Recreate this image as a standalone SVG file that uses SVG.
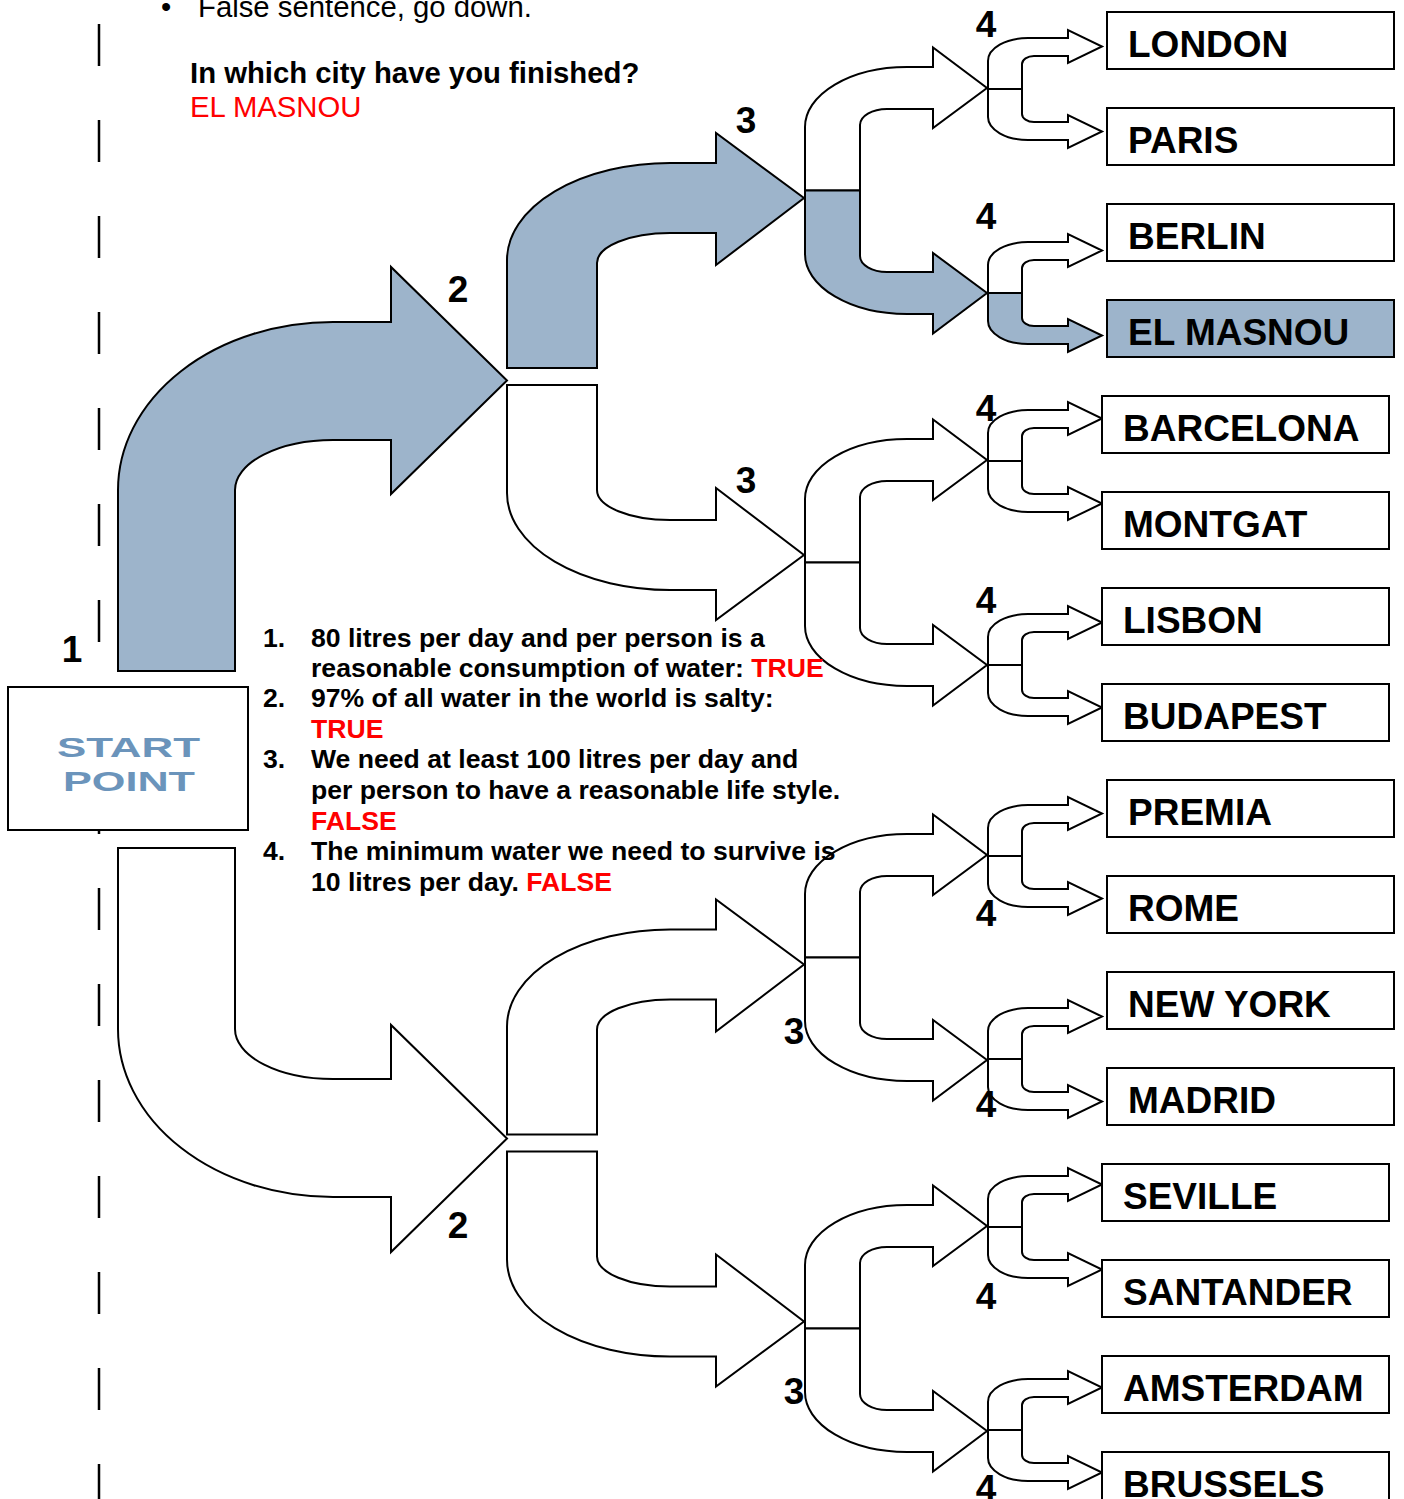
<svg xmlns="http://www.w3.org/2000/svg" xmlns:xlink="http://www.w3.org/1999/xlink" width="1404" height="1499" viewBox="0 0 1404 1499">
<style>
.sh{stroke:#000;stroke-width:2;stroke-linejoin:miter}
.w{fill:#fff}
.bl{fill:#9db4cb}
.box{stroke:#000;stroke-width:2}
.city{font-family:"Liberation Sans",Arial,sans-serif;font-weight:bold;font-size:37px;fill:#000}
.num{font-family:"Liberation Sans",Arial,sans-serif;font-weight:bold;font-size:37px;fill:#000;text-anchor:middle}
.list{font-family:"Liberation Sans",Arial,sans-serif;font-weight:bold;font-size:26.6px;fill:#000}
.hdr{font-family:"Liberation Sans",Arial,sans-serif;font-size:29.3px;fill:#000}
.red{fill:#ff0000}
.start{font-family:"Liberation Sans",Arial,sans-serif;font-weight:bold;font-size:28px;fill:#6b94bb;text-anchor:middle}
</style>
<defs>
<path id="l2u" d="M507,-8.5 L507,-116.5 A163,97 0 0 1 670,-213.5 L716,-213.5 L716,-243.5 L804,-178.5 L716,-111.5 L716,-143.5 L670,-143.5 A73,30 0 0 0 597,-113.5 L597,-8.5 Z"/>
<path id="l2d" d="M507,8.5 L507,116.5 A163,97 0 0 0 670,213.5 L716,213.5 L716,243.5 L804,178.5 L716,111.5 L716,143.5 L670,143.5 A73,30 0 0 1 597,113.5 L597,8.5 Z"/>
<path id="l3u" d="M805,0 L805,-63.5 A102,60 0 0 1 907,-123.5 L933,-123.5 L933,-143 L987,-102.5 L933,-62.5 L933,-81.5 L887,-81.5 A27,16 0 0 0 860,-65.5 L860,0 Z"/>
<path id="l3d" d="M805,0 L805,63.5 A102,60 0 0 0 907,123.5 L933,123.5 L933,143 L987,102.5 L933,62.5 L933,81.5 L887,81.5 A27,16 0 0 1 860,65.5 L860,0 Z"/>
<path id="l4u" d="M988,0 L988,-28 A40,23 0 0 1 1028,-51 L1068,-51 L1068,-59 L1102,-42.5 L1068,-26 L1068,-33 L1034,-33 A12,8 0 0 0 1022,-25 L1022,0 Z"/>
<path id="l4d" d="M988,0 L988,28 A40,23 0 0 0 1028,51 L1068,51 L1068,59 L1102,42.5 L1068,26 L1068,33 L1034,33 A12,8 0 0 1 1022,25 L1022,0 Z"/>
</defs>

<rect width="1404" height="1499" fill="#fff"/>

<line x1="99" y1="24" x2="99" y2="1499" stroke="#000" stroke-width="2.5" stroke-dasharray="42 54"/>

<g id="header">
<text class="hdr" x="161" y="17">•</text>
<text class="hdr" x="198" y="17">False sentence, go down.</text>
<text class="hdr" x="190" y="83" font-weight="bold">In which city have you finished?</text>
<text class="hdr red" x="190" y="117">EL MASNOU</text>
</g>

<g id="connectors">
<path class="sh bl" d="M118,671 L118,490 A215,168 0 0 1 333,322 L391,322 L391,267 L507,380.5 L391,494 L391,440 L333,440 A98,50 0 0 0 235,490 L235,671 Z"/>
<path class="sh w" d="M118,848 L118,1029 A215,168 0 0 0 333,1197 L391,1197 L391,1252 L507,1138.5 L391,1025 L391,1079 L333,1079 A98,50 0 0 1 235,1029 L235,848 Z"/>

<use xlink:href="#l2u" class="sh bl" y="376.5"/>
<use xlink:href="#l2d" class="sh w" y="376.5"/>
<use xlink:href="#l2u" class="sh w" y="1143"/>
<use xlink:href="#l2d" class="sh w" y="1143"/>

<use xlink:href="#l3u" class="sh w" y="190.5"/>
<use xlink:href="#l3d" class="sh bl" y="190.5"/>
<use xlink:href="#l3u" class="sh w" y="562.5"/>
<use xlink:href="#l3d" class="sh w" y="562.5"/>
<use xlink:href="#l3u" class="sh w" y="957.5"/>
<use xlink:href="#l3d" class="sh w" y="957.5"/>
<use xlink:href="#l3u" class="sh w" y="1328.5"/>
<use xlink:href="#l3d" class="sh w" y="1328.5"/>

<use xlink:href="#l4u" class="sh w" y="89"/>
<use xlink:href="#l4d" class="sh w" y="89"/>
<use xlink:href="#l4u" class="sh w" y="293"/>
<use xlink:href="#l4d" class="sh bl" y="293"/>
<use xlink:href="#l4u" class="sh w" y="461"/>
<use xlink:href="#l4d" class="sh w" y="461"/>
<use xlink:href="#l4u" class="sh w" y="665"/>
<use xlink:href="#l4d" class="sh w" y="665"/>
<use xlink:href="#l4u" class="sh w" y="856"/>
<use xlink:href="#l4d" class="sh w" y="856"/>
<use xlink:href="#l4u" class="sh w" y="1059"/>
<use xlink:href="#l4d" class="sh w" y="1059"/>
<use xlink:href="#l4u" class="sh w" y="1227"/>
<use xlink:href="#l4d" class="sh w" y="1227"/>
<use xlink:href="#l4u" class="sh w" y="1430"/>
<use xlink:href="#l4d" class="sh w" y="1430"/>
</g>

<g id="start">
<rect class="box w" x="8" y="687" width="240" height="143"/>
<text class="start" x="128.5" y="757" textLength="143" lengthAdjust="spacingAndGlyphs">START</text>
<text class="start" x="129" y="791" textLength="132" lengthAdjust="spacingAndGlyphs">POINT</text>
</g>

<g id="london"><rect class="box w" x="1107" y="12" width="287" height="57"/><text class="city" x="1128" y="57">LONDON</text></g>
<g id="paris"><rect class="box w" x="1107" y="108" width="287" height="57"/><text class="city" x="1128" y="153">PARIS</text></g>
<g id="berlin"><rect class="box w" x="1107" y="204" width="287" height="57"/><text class="city" x="1128" y="249">BERLIN</text></g>
<g id="elmasnou"><rect class="box bl" x="1107" y="300" width="287" height="57"/><text class="city" x="1128" y="345">EL MASNOU</text></g>
<g id="barcelona"><rect class="box w" x="1102" y="396" width="287" height="57"/><text class="city" x="1123" y="441">BARCELONA</text></g>
<g id="montgat"><rect class="box w" x="1102" y="492" width="287" height="57"/><text class="city" x="1123" y="537">MONTGAT</text></g>
<g id="lisbon"><rect class="box w" x="1102" y="588" width="287" height="57"/><text class="city" x="1123" y="633">LISBON</text></g>
<g id="budapest"><rect class="box w" x="1102" y="684" width="287" height="57"/><text class="city" x="1123" y="729">BUDAPEST</text></g>
<g id="premia"><rect class="box w" x="1107" y="780" width="287" height="57"/><text class="city" x="1128" y="825">PREMIA</text></g>
<g id="rome"><rect class="box w" x="1107" y="876" width="287" height="57"/><text class="city" x="1128" y="921">ROME</text></g>
<g id="newyork"><rect class="box w" x="1107" y="972" width="287" height="57"/><text class="city" x="1128" y="1017">NEW YORK</text></g>
<g id="madrid"><rect class="box w" x="1107" y="1068" width="287" height="57"/><text class="city" x="1128" y="1113">MADRID</text></g>
<g id="seville"><rect class="box w" x="1102" y="1164" width="287" height="57"/><text class="city" x="1123" y="1209">SEVILLE</text></g>
<g id="santander"><rect class="box w" x="1102" y="1260" width="287" height="57"/><text class="city" x="1123" y="1305">SANTANDER</text></g>
<g id="amsterdam"><rect class="box w" x="1102" y="1356" width="287" height="57"/><text class="city" x="1123" y="1401">AMSTERDAM</text></g>
<g id="brussels"><rect class="box w" x="1102" y="1452" width="287" height="57"/><text class="city" x="1123" y="1497">BRUSSELS</text></g>

<g id="step-numbers">
<text class="num" x="72" y="662">1</text>
<text class="num" x="458" y="302">2</text>
<text class="num" x="458" y="1238">2</text>
<text class="num" x="746" y="133">3</text>
<text class="num" x="746" y="493">3</text>
<text class="num" x="794" y="1044">3</text>
<text class="num" x="794" y="1404">3</text>
<text class="num" x="986" y="37">4</text>
<text class="num" x="986" y="229">4</text>
<text class="num" x="986" y="421">4</text>
<text class="num" x="986" y="613">4</text>
<text class="num" x="986" y="926">4</text>
<text class="num" x="986" y="1117">4</text>
<text class="num" x="986" y="1309">4</text>
<text class="num" x="986" y="1501">4</text>
</g>

<g id="questions" class="list">
<text x="263" y="647">1.</text>
<text x="311" y="647">80 litres per day and per person is a</text>
<text x="311" y="677">reasonable consumption of water: <tspan class="red">TRUE</tspan></text>
<text x="263" y="707">2.</text>
<text x="311" y="707">97% of all water in the world is salty:</text>
<text x="311" y="738" class="red">TRUE</text>
<text x="263" y="768">3.</text>
<text x="311" y="768">We need at least 100 litres per day and</text>
<text x="311" y="799">per person to have a reasonable life style.</text>
<text x="311" y="830" class="red">FALSE</text>
<text x="263" y="860">4.</text>
<text x="311" y="860">The minimum water we need to survive is</text>
<text x="311" y="891">10 litres per day. <tspan class="red">FALSE</tspan></text>
</g>
</svg>
